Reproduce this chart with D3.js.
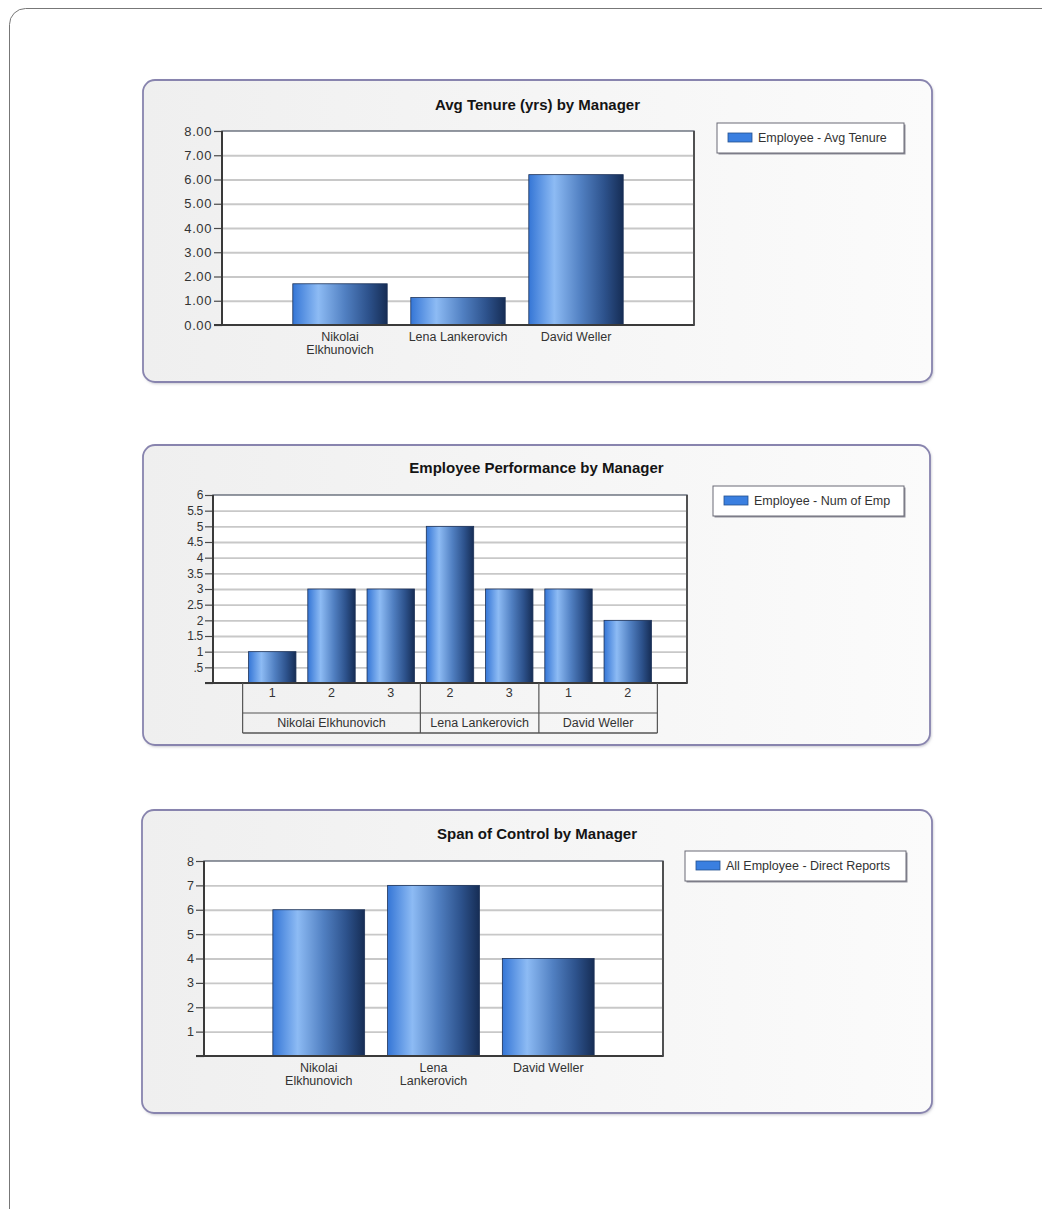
<!DOCTYPE html>
<html>
<head>
<meta charset="utf-8">
<script src="https://cdn.jsdelivr.net/npm/d3@7"></script>
<style>
  body { margin: 0; background: #fff; }
  text { font-family: "Liberation Sans", Arial, sans-serif; }
</style>
</head>
<body>
<svg id="chart"></svg>
<script>
// data
var tenureLabels = [["Nikolai", "Elkhunovich"], ["Lena Lankerovich"], ["David Weller"]];
var tenureValues = [1.7, 1.13, 6.2];
var tenureTicks = [0, 1, 2, 3, 4, 5, 6, 7, 8];

var perfLevels = ["1", "2", "3", "2", "3", "1", "2"];
var perfValues = [1, 3, 3, 5, 3, 3, 2];
var perfManagers = ["Nikolai Elkhunovich", "Lena Lankerovich", "David Weller"];
var perfManagerSizes = [3, 2, 2];
var perfTicks = [0, 0.5, 1, 1.5, 2, 2.5, 3, 3.5, 4, 4.5, 5, 5.5, 6];

var spanLabels = [["Nikolai", "Elkhunovich"], ["Lena", "Lankerovich"], ["David Weller"]];
var spanValues = [6, 7, 4];
var spanTicks = [0, 1, 2, 3, 4, 5, 6, 7, 8];

var W = 1042, H = 1209;
var svg = d3.select("#chart").attr("width", W).attr("height", H);
var defs = svg.append("defs");

var barGrad = defs.append("linearGradient").attr("id", "barGrad")
  .attr("x1", "0").attr("x2", "1").attr("y1", "0").attr("y2", "0");
[[0, "#3576d6"], [0.27, "#8dbbf4"], [0.55, "#5180c2"], [0.8, "#2d528c"], [1, "#162d55"]]
  .forEach(function(s) { barGrad.append("stop").attr("offset", s[0]).attr("stop-color", s[1]); });

var panelGrad = defs.append("linearGradient").attr("id", "panelGrad")
  .attr("x1", "0").attr("x2", "1").attr("y1", "0").attr("y2", "0");
panelGrad.append("stop").attr("offset", 0).attr("stop-color", "#efefef");
panelGrad.append("stop").attr("offset", 1).attr("stop-color", "#fbfbfb");

var blur = defs.append("filter").attr("id", "soft").attr("x", "-5%").attr("y", "-5%").attr("width", "110%").attr("height", "110%");
blur.append("feGaussianBlur").attr("stdDeviation", 1.5);

// outer page frame
svg.append("rect").attr("x", 9.5).attr("y", 8.5).attr("width", 1100).attr("height", 1300)
  .attr("rx", 16).attr("fill", "#fff").attr("stroke", "#777").attr("stroke-width", 1);

function drawChart(cfg) {
  var g = svg.append("g");
  var p = cfg.panel;

  g.append("rect").attr("x", p.x + 1).attr("y", p.y + 1.5).attr("width", p.w).attr("height", p.h)
    .attr("rx", 12).attr("fill", "#b8b8c4").attr("filter", "url(#soft)");
  g.append("rect").attr("x", p.x).attr("y", p.y).attr("width", p.w).attr("height", p.h)
    .attr("rx", 12).attr("fill", "url(#panelGrad)").attr("stroke", "#8884ae").attr("stroke-width", 1.8);

  g.append("text")
    .attr("x", p.x + p.w / 2).attr("y", cfg.titleY).attr("dy", "0.35em")
    .attr("text-anchor", "middle").attr("font-size", "15px").attr("font-weight", "bold")
    .attr("fill", "#141414").text(cfg.title);

  var n = cfg.values.length;
  var x = d3.scaleLinear().domain([0, n + 1]).range([cfg.x0, cfg.x1]);
  var y = d3.scaleLinear().domain([0, cfg.ticks[cfg.ticks.length - 1]]).range([cfg.y0, cfg.y1]);
  var pw = cfg.x1 - cfg.x0;

  g.append("rect").attr("x", cfg.x0).attr("y", cfg.y1).attr("width", pw).attr("height", cfg.y0 - cfg.y1)
    .attr("fill", "#fff").attr("stroke", "#59616f").attr("stroke-width", 1.3);

  var grid = g.append("g").attr("transform", "translate(" + cfg.x0 + ",0)")
    .call(d3.axisLeft(y).tickValues(cfg.ticks.slice(1, -1)).tickSize(-pw).tickFormat(""));
  grid.select(".domain").remove();
  grid.selectAll(".tick line").attr("stroke", "#c8c8c8").attr("stroke-width", 1.8);

  g.append("g").selectAll("rect").data(cfg.values).enter().append("rect")
    .attr("x", function(d, i) { return x(i + 1 - 0.4); })
    .attr("y", function(d) { return y(d); })
    .attr("width", x(0.8) - x(0))
    .attr("height", function(d) { return y(0) - y(d); })
    .attr("fill", "url(#barGrad)")
    .attr("stroke", "#1c3157").attr("stroke-width", 0.8);

  var yAxis = g.append("g").attr("transform", "translate(" + cfg.x0 + ",0)")
    .call(d3.axisLeft(y).tickValues(cfg.ticks).tickFormat(cfg.fmt).tickSize(8).tickPadding(2));
  yAxis.select(".domain").remove();
  yAxis.selectAll(".tick line").attr("stroke", "#4a4a4a").attr("stroke-width", 1.2);
  yAxis.selectAll(".tick text").attr("font-size", cfg.tickFont).attr("fill", "#333")
    .attr("letter-spacing", cfg.tickSpacing)
    .attr("font-family", "'Liberation Sans', Arial, sans-serif");

  // heavy left and bottom axis lines
  g.append("line").attr("x1", cfg.x0).attr("x2", cfg.x0).attr("y1", cfg.y1).attr("y2", cfg.y0)
    .attr("stroke", "#3a3a3a").attr("stroke-width", 2);
  g.append("line").attr("x1", cfg.x0 - 8).attr("x2", cfg.x1 + 0.6).attr("y1", cfg.y0).attr("y2", cfg.y0)
    .attr("stroke", "#3a3a3a").attr("stroke-width", 2);
  g.append("line").attr("x1", cfg.x1).attr("x2", cfg.x1).attr("y1", cfg.y1).attr("y2", cfg.y0)
    .attr("stroke", "#4a4a4a").attr("stroke-width", 1.8);

  if (cfg.labels) {
    var lab = g.append("g").selectAll("text").data(cfg.labels).enter().append("text")
      .attr("text-anchor", "middle").attr("font-size", "12.5px").attr("fill", "#333")
      .attr("transform", function(d, i) { return "translate(" + x(i + 1) + "," + (cfg.y0 + 12) + ")"; });
    lab.selectAll("tspan").data(function(d) { return d; }).enter().append("tspan")
      .attr("x", 0).attr("y", function(d, j) { return j * 13; }).attr("dy", "0.35em")
      .text(function(d) { return d; });
  }

  if (cfg.table) cfg.table(g, x, y);

  // legend
  var L = cfg.legend;
  g.append("rect").attr("x", L.x + 1.5).attr("y", L.y + 1.5).attr("width", L.w).attr("height", 30)
    .attr("fill", "#8f8f9a");
  g.append("rect").attr("x", L.x).attr("y", L.y).attr("width", L.w).attr("height", 30)
    .attr("fill", "#fff").attr("stroke", "#6a6a76").attr("stroke-width", 1);
  g.append("rect").attr("x", L.x + 11).attr("y", L.y + 10).attr("width", 24).attr("height", 9)
    .attr("fill", "#3a7fe0").attr("stroke", "#24518f").attr("stroke-width", 0.8);
  g.append("text").attr("x", L.x + 41).attr("y", L.y + 14.5).attr("dy", "0.35em")
    .attr("font-size", "12.5px").attr("fill", "#333").text(L.text);
}

drawChart({
  panel: {x: 143, y: 80, w: 789, h: 302},
  title: "Avg Tenure (yrs) by Manager", titleY: 105,
  x0: 222, x1: 694, y0: 325, y1: 131,
  values: tenureValues, labels: tenureLabels, ticks: tenureTicks,
  fmt: d3.format(".2f"), tickFont: "13px", tickSpacing: 0.6,
  legend: {x: 717, y: 123, w: 187, text: "Employee - Avg Tenure"}
});

drawChart({
  panel: {x: 143, y: 445, w: 787, h: 300},
  title: "Employee Performance by Manager", titleY: 468,
  x0: 213, x1: 687, y0: 683, y1: 495,
  values: perfValues, ticks: perfTicks,
  fmt: function(d) { return d === 0 ? "" : d === 0.5 ? ".5" : String(d); },
  tickFont: "12px", tickSpacing: -0.3,
  legend: {x: 713, y: 486, w: 191, text: "Employee - Num of Emp"},
  table: function(g, x, y) {
    var top = y(0), mid = top + 30, bot = top + 50;
    var starts = [0];
    perfManagerSizes.forEach(function(s, i) { starts.push(starts[i] + s); });
    var stroke = "#555";
    g.append("line").attr("x1", x(0.5)).attr("x2", x(perfValues.length + 0.5))
      .attr("y1", mid).attr("y2", mid).attr("stroke", stroke).attr("stroke-width", 1.2);
    g.append("line").attr("x1", x(0.5)).attr("x2", x(perfValues.length + 0.5))
      .attr("y1", bot).attr("y2", bot).attr("stroke", stroke).attr("stroke-width", 1.4);
    g.append("g").selectAll("line").data(starts).enter().append("line")
      .attr("x1", function(d) { return x(d + 0.5); }).attr("x2", function(d) { return x(d + 0.5); })
      .attr("y1", top).attr("y2", bot).attr("stroke", stroke).attr("stroke-width", 1.2);
    g.append("g").selectAll("text").data(perfLevels).enter().append("text")
      .attr("x", function(d, i) { return x(i + 1); }).attr("y", top + 10).attr("dy", "0.35em")
      .attr("text-anchor", "middle").attr("font-size", "12.5px").attr("fill", "#333")
      .text(function(d) { return d; });
    g.append("g").selectAll("text").data(perfManagers).enter().append("text")
      .attr("x", function(d, i) { return (x(starts[i] + 0.5) + x(starts[i + 1] + 0.5)) / 2; })
      .attr("y", mid + 10).attr("dy", "0.35em")
      .attr("text-anchor", "middle").attr("font-size", "12.5px").attr("fill", "#333")
      .text(function(d) { return d; });
  }
});

drawChart({
  panel: {x: 142, y: 810, w: 790, h: 303},
  title: "Span of Control by Manager", titleY: 834,
  x0: 204, x1: 663, y0: 1056, y1: 861,
  values: spanValues, labels: spanLabels, ticks: spanTicks,
  fmt: function(d) { return d === 0 ? "" : String(d); },
  tickFont: "12.5px", tickSpacing: 0,
  legend: {x: 685, y: 851, w: 221, text: "All Employee - Direct Reports"}
});
</script>
</body>
</html>
